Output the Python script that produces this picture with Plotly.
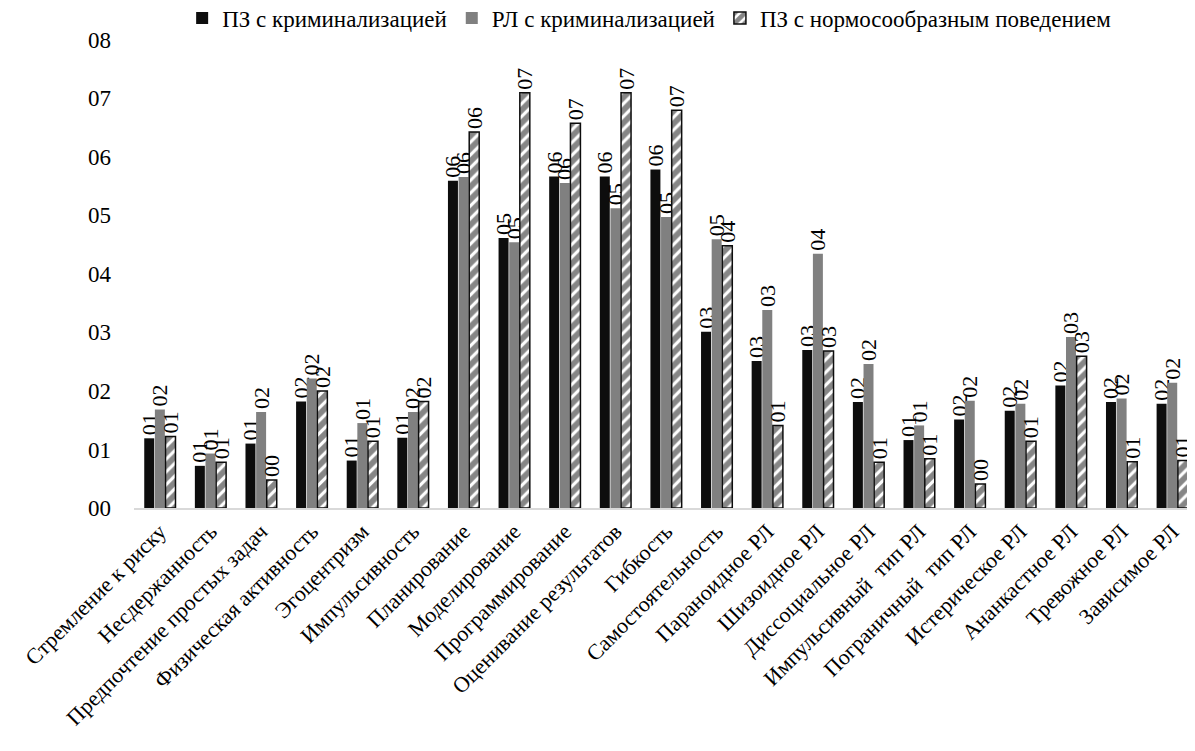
import plotly.graph_objects as go

categories = [
    "Стремление к риску", "Несдержанность", "Предпочтение простых задач",
    "Физическая активность", "Эгоцентризм", "Импульсивность", "Планирование",
    "Моделирование", "Программирование", "Оценивание результатов", "Гибкость",
    "Самостоятельность", "Параноидное РЛ", "Шизоидное РЛ", "Диссоциальное РЛ",
    "Импульсивный\u00a0 тип РЛ", "Пограничный\u00a0 тип РЛ", "Истерическое РЛ",
    "Ананкастное РЛ", "Тревожное РЛ", "Зависимое РЛ",
]

series_names = [
    "ПЗ с криминализацией",
    "РЛ с криминализацией",
    "ПЗ с нормосообразным поведением",
]

pz_crim = [1.19, 0.72, 1.10, 1.82, 0.81, 1.20, 5.59, 4.61, 5.66, 5.66, 5.78,
           3.01, 2.51, 2.70, 1.81, 1.16, 1.51, 1.66, 2.09, 1.81, 1.78]
rl_crim = [1.68, 0.93, 1.64, 2.21, 1.45, 1.64, 5.65, 4.54, 5.55, 5.12, 4.97,
           4.59, 3.38, 4.34, 2.46, 1.41, 1.83, 1.78, 2.92, 1.87, 2.14]
pz_norm = [1.22, 0.78, 0.48, 2.00, 1.14, 1.82, 6.42, 7.09, 6.57, 7.09, 6.79,
           4.48, 1.41, 2.68, 0.78, 0.84, 0.41, 1.14, 2.59, 0.79, 0.81]

y_ticks = [0, 1, 2, 3, 4, 5, 6, 7, 8]

FONT = "'Liberation Serif', 'Times New Roman', serif"
label_font = dict(family=FONT, size=22, color="#000000")

common = dict(texttemplate="%{y:02d}", textposition="outside", textangle=-90,
              textfont=label_font, constraintext="none", cliponaxis=False)

fig = go.Figure()
fig.add_trace(go.Bar(
    name=series_names[0], x=categories, y=pz_crim,
    marker=dict(color="#0d0d0d", line=dict(width=0)), **common,
))
fig.add_trace(go.Bar(
    name=series_names[1], x=categories, y=rl_crim,
    marker=dict(color="#808080", line=dict(width=0)), **common,
))
fig.add_trace(go.Bar(
    name=series_names[2], x=categories, y=pz_norm,
    marker=dict(
        color="#ffffff",
        line=dict(color="#0d0d0d", width=1.5),
        pattern=dict(shape="/", fgcolor="#0d0d0d", bgcolor="#ffffff",
                     size=9, solidity=0.65, fillmode="overlay"),
    ), **common,
))

# the page body has an 8px margin, so the figure is drawn 8px smaller
W, H = 1187, 743
n = len(categories)
fig.update_layout(
    width=W, height=H,
    barmode="group", bargap=0.37, bargroupgap=0.06,
    plot_bgcolor="#ffffff", paper_bgcolor="#ffffff",
    margin=dict(l=126, r=0, t=30, b=243),
    font=dict(family=FONT, size=22, color="#000000"),
    legend=dict(
        orientation="h", x=0.486, xanchor="center",
        yref="container", y=1 - 10 / H, yanchor="middle",
        font=dict(family=FONT, size=23, color="#000000"),
        itemwidth=30, tracegroupgap=0, bgcolor="rgba(0,0,0,0)",
    ),
    xaxis=dict(
        range=[-0.511, n - 1 + 0.45],
        tickangle=-45, showgrid=False, ticks="", automargin=False,
        showline=True, linecolor="#d9d9d9", linewidth=2,
        tickfont=dict(family=FONT, size=22, color="#000000"),
    ),
    yaxis=dict(
        range=[0, 8], tickvals=y_ticks, tickformat="02d", automargin=False,
        showgrid=False, zeroline=False, showline=False, ticks="",
        tickfont=dict(family=FONT, size=23, color="#000000"),
        ticklabelstandoff=22,
    ),
)

fig.write_html("out.html")
